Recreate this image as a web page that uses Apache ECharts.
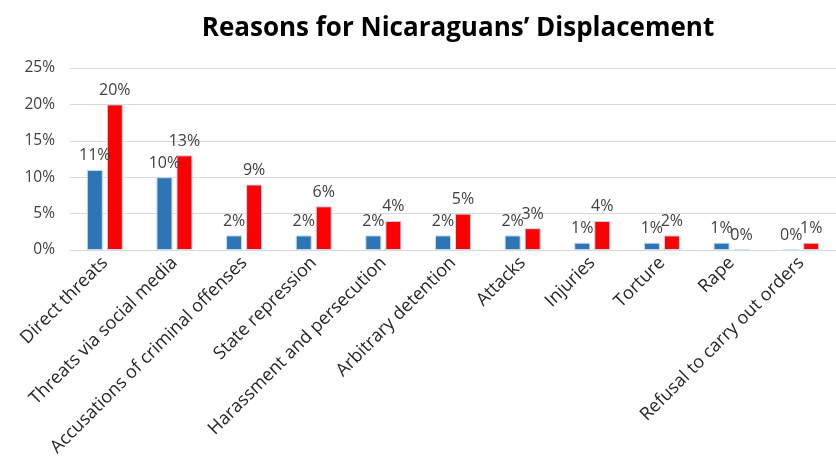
<!DOCTYPE html>
<html>
<head>
<meta charset="utf-8">
<script src="https://cdn.jsdelivr.net/npm/echarts@6/dist/echarts.min.js"></script>
<style>
  html, body { margin: 0; padding: 0; background: #fff; overflow: hidden; }
  #chart { width: 836px; height: 462px; }
</style>
</head>
<body>
<div id="chart"></div>
<script>
// Reasons reported, in axis order
const categories = [
  'Direct threats',
  'Threats via social media',
  'Accusations of criminal offenses',
  'State repression',
  'Harassment and persecution',
  'Arbitrary detention',
  'Attacks',
  'Injuries',
  'Torture',
  'Rape',
  'Refusal to carry out orders'
];

// Percentages for the two groups
const blueValues = [11, 10, 2, 2, 2, 2, 2, 1, 1, 1, 0];
const redValues  = [20, 13, 9, 6, 4, 5, 3, 4, 2, 0, 1];

// Value-axis ticks
const yMin = 0;
const yMax = 25;
const yStep = 5;

const fontFamily = '"Open Sans", "Liberation Sans", sans-serif';

const chart = echarts.init(document.getElementById('chart'), null, { renderer: 'canvas' });

const labelStyle = {
  show: true,
  position: 'top',
  distance: 6,
  formatter: p => p.value + '%',
  color: '#404040',
  fontSize: 16,
  fontFamily: fontFamily
};

chart.setOption({
  animation: false,
  backgroundColor: '#ffffff',
  title: {
    text: 'Reasons for Nicaraguans\u2019 Displacement',
    left: 453,
    textAlign: 'center',
    top: 11,
    textStyle: {
      fontFamily: fontFamily,
      fontWeight: 'bold',
      fontSize: 26,
      color: '#000000'
    }
  },
  // the plot runs a little past the right edge of the canvas
  grid: {
    left: 70,
    width: 777,
    top: 68,
    bottom: 212,
    containLabel: false
  },
  xAxis: {
    type: 'category',
    data: categories,
    axisLine: { show: true, lineStyle: { color: '#d9d9d9', width: 1 } },
    axisTick: { show: false },
    axisLabel: {
      interval: 0,
      rotate: 45,
      margin: 10,
      color: '#262626',
      fontSize: 18,
      fontFamily: fontFamily
    }
  },
  yAxis: {
    type: 'value',
    min: yMin,
    max: yMax,
    interval: yStep,
    axisLine: { show: false },
    axisTick: { show: false },
    axisLabel: {
      formatter: v => v + '%',
      color: '#404040',
      fontSize: 15.5,
      fontFamily: fontFamily,
      margin: 15
    },
    splitLine: { lineStyle: { color: '#d9d9d9', width: 1 } }
  },
  series: [
    {
      name: 'Blue',
      type: 'bar',
      data: blueValues,
      barWidth: 16,
      barGap: '25%',
      itemStyle: { color: '#2e75b6', borderColor: '#c5dcf0', borderWidth: 1 },
      label: labelStyle
    },
    {
      name: 'Red',
      type: 'bar',
      data: redValues,
      barWidth: 16,
      itemStyle: { color: '#ff0000', borderColor: '#c5dcf0', borderWidth: 1 },
      label: labelStyle
    }
  ]
});
</script>
</body>
</html>
